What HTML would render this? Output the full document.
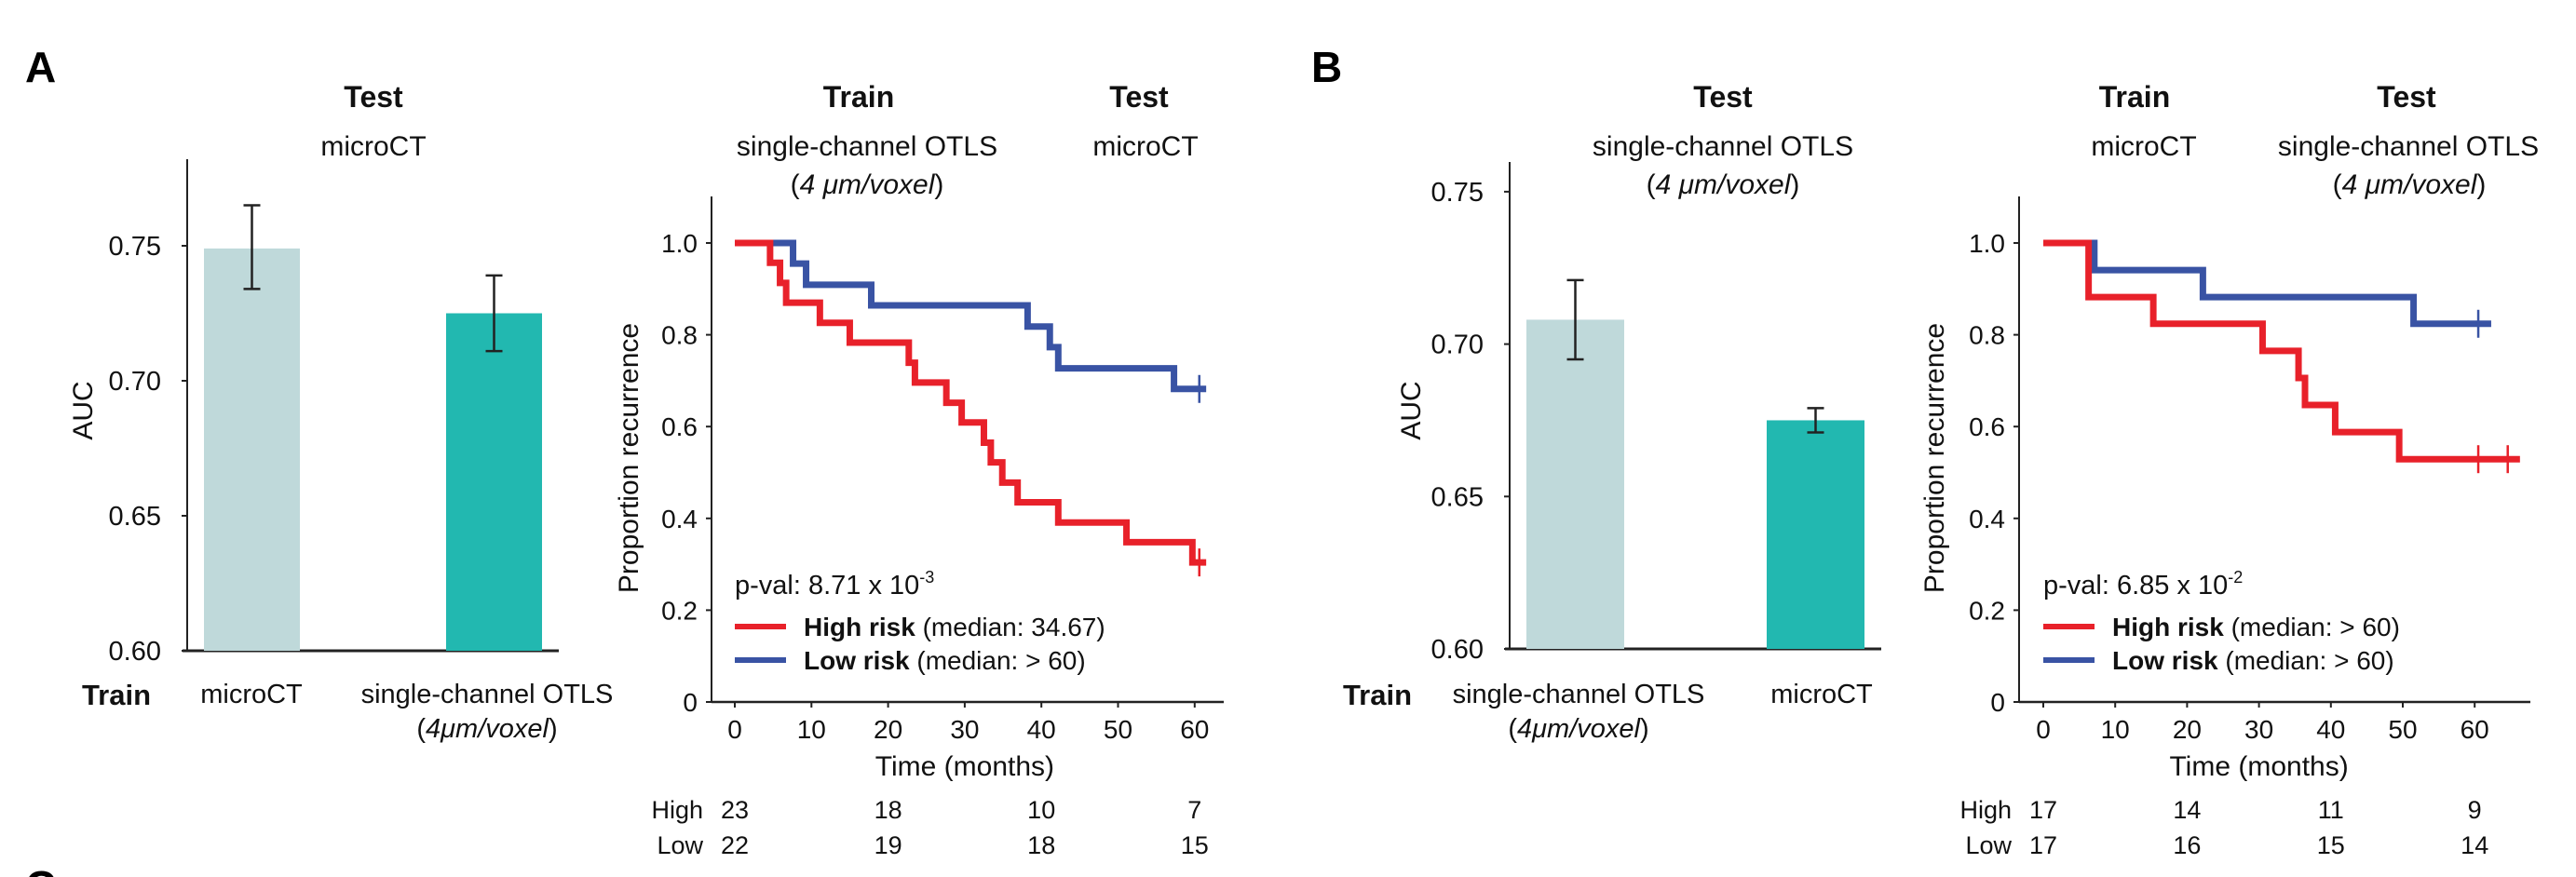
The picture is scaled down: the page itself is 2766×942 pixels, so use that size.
<!DOCTYPE html>
<html><head><meta charset="utf-8">
<style>
html,body{margin:0;padding:0;background:#fff;}
svg{display:block;font-family:"Liberation Sans",Arial,sans-serif;}
</style></head>
<body>
<svg id="fig" width="2766" height="942" viewBox="0 0 2766 942" xmlns="http://www.w3.org/2000/svg">
<text x="27" y="88" font-size="46" font-weight="bold">A</text>
<text x="1408" y="88" font-size="46" font-weight="bold">B</text>
<text x="27" y="968" font-size="46" font-weight="bold">C</text>
<g id="g"></g>
</svg>
<script>
// ---- data ----
const barCatsA = ["microCT", "single-channel OTLS"];
const barValsA = [0.749, 0.725];
const barErrLoA = [0.734, 0.711];
const barErrHiA = [0.765, 0.739];
const barCatsB = ["single-channel OTLS", "microCT"];
const barValsB = [0.708, 0.675];
const barErrLoB = [0.695, 0.671];
const barErrHiB = [0.721, 0.679];
const aucTicksA = ["0.60", "0.65", "0.70", "0.75"];
const aucTicksB = ["0.60", "0.65", "0.70", "0.75"];
const kmYTicks = ["0", "0.2", "0.4", "0.6", "0.8", "1.0"];
const kmXTicks = ["0", "10", "20", "30", "40", "50", "60"];
const kmAHighT = [0, 4.6, 5.9, 6.7, 11.1, 15, 22.7, 23.5, 27.6, 29.6, 32.5, 33.4, 34.9, 36.9, 42.2, 51.1, 59.7, 61.5];
const kmAHighS = [1, 0.957, 0.913, 0.87, 0.826, 0.783, 0.739, 0.696, 0.652, 0.609, 0.565, 0.522, 0.478, 0.435, 0.391, 0.348, 0.304, 0.304];
const kmALowT = [0, 7.6, 9.3, 17.8, 38.2, 41.1, 42.2, 57.3, 61.5];
const kmALowS = [1, 0.955, 0.909, 0.864, 0.818, 0.773, 0.727, 0.682, 0.682];
const kmACensHigh = [60.6];
const kmACensLow = [60.6];
const kmBHighT = [0, 6.3, 15.3, 30.5, 35.5, 36.4, 40.6, 49.5, 66.3];
const kmBHighS = [1, 0.882, 0.824, 0.765, 0.706, 0.647, 0.588, 0.529, 0.529];
const kmBLowT = [0, 7.1, 22.2, 51.5, 62.3];
const kmBLowS = [1, 0.941, 0.882, 0.824, 0.824];
const kmBCensHigh = [60.5, 64.6];
const kmBCensLow = [60.5];
const riskTimes = [0, 20, 40, 60];
const riskAHigh = [23, 18, 10, 7];
const riskALow = [22, 19, 18, 15];
const riskBHigh = [17, 14, 11, 9];
const riskBLow = [17, 16, 15, 14];

const NS = "http://www.w3.org/2000/svg";
const root = document.getElementById("g");
function el(tag, attrs, parent, txt) {
  const e = document.createElementNS(NS, tag);
  for (const k in attrs) e.setAttribute(k, attrs[k]);
  if (txt !== undefined) e.textContent = txt;
  (parent || root).appendChild(e);
  return e;
}
function txt(x, y, s, size, anchor, extra, name) {
  const a = Object.assign({x: x, y: y, "font-size": size, "text-anchor": anchor || "middle", fill: "#111"}, extra || {});
  const t = el("text", a, root, s);
  
  
  return t;
}
function mixed(x, y, parts, size, anchor, name) {
  const t = el("text", {x: x, y: y, "font-size": size, "text-anchor": anchor || "middle", fill: "#111"});
  
  
  parts.forEach(p => {
    el("tspan", p[1] || {}, t, p[0]);
  });
  return t;
}

// ---- bar chart ----
function barChart(o) {
  const yS = v => o.y0 - (v - 0.60) / 0.05 * o.step;
  let a = el("line", {x1: o.ax, y1: o.top, x2: o.ax, y2: o.y0, stroke: "#222", "stroke-width": 2});
  
  
  a = el("line", {x1: o.ax - 5, y1: o.y0, x2: o.axEnd, y2: o.y0, stroke: "#222", "stroke-width": 3});
  
  
  o.ticks.forEach(tk => {
    const y = yS(parseFloat(tk));
    const l = el("line", {x1: o.ax - 6, y1: y, x2: o.ax, y2: y, stroke: "#222", "stroke-width": 2});
    
    
    txt(o.ax - 28, y + 10, tk, 29, "end", null, "auc-tick-label");
  });
  const colors = ["#bfd9da", "#22b8b0"];
  o.vals.forEach((v, i) => {
    const x = o.barX[i];
    const r = el("rect", {x: x, y: yS(v), width: o.bw, height: o.y0 - yS(v), fill: colors[i]});
    
    
    const cx = x + o.bw / 2;
    const eg = el("path", {d: `M${cx} ${yS(o.hi[i])}V${yS(o.lo[i])}M${cx-9} ${yS(o.hi[i])}H${cx+9}M${cx-9} ${yS(o.lo[i])}H${cx+9}`, stroke: "#222", "stroke-width": 2.5, fill: "none"});
    
    
  });
  const at = el("text", {x: 0, y: 0, "font-size": 30, "text-anchor": "middle", fill: "#111", transform: `translate(${o.aucX},${o.aucY}) rotate(-90)`}, root, "AUC");
  
  
}
barChart({ax: 201, axEnd: 600, top: 171, y0: 699, step: 145, ticks: aucTicksA, vals: barValsA, lo: barErrLoA, hi: barErrHiA, barX: [219, 479], bw: 103, aucX: 99, aucY: 441});
barChart({ax: 1621, axEnd: 2020, top: 174, y0: 697, step: 163.7, ticks: aucTicksB, vals: barValsB, lo: barErrLoB, hi: barErrHiB, barX: [1639, 1897], bw: 105, aucX: 1525, aucY: 441});

// bar labels
txt(401, 115, "Test", 32, "middle", {"font-weight": "bold"}, "bar-a-test-title");
txt(401, 167, barCatsA[0], 30, "middle", null, "bar-a-test-subtitle");
txt(125, 757, "Train", 31, "middle", {"font-weight": "bold"}, "bar-a-train-label");
txt(270, 755, barCatsA[0], 29, "middle", null, "bar-a-category");
txt(523, 755, barCatsA[1], 29, "middle", null, "bar-a-category");
mixed(523, 792, [["("], ["4μm/voxel", {"font-style": "italic"}], [")"]], 29, "middle", "bar-a-category-unit");

txt(1850, 115, "Test", 32, "middle", {"font-weight": "bold"}, "bar-b-test-title");
txt(1850, 167, "single-channel OTLS", 30, "middle", null, "bar-b-test-subtitle");
mixed(1850, 208, [["("], ["4 μm/voxel", {"font-style": "italic"}], [")"]], 30, "middle", "bar-b-test-unit");
txt(1479, 757, "Train", 31, "middle", {"font-weight": "bold"}, "bar-b-train-label");
txt(1695, 755, barCatsB[0], 29, "middle", null, "bar-b-category");
txt(1956, 755, barCatsB[1], 29, "middle", null, "bar-b-category");
mixed(1695, 792, [["("], ["4μm/voxel", {"font-style": "italic"}], [")"]], 29, "middle", "bar-b-category-unit");

// ---- KM ----
function km(o) {
  const xS = t => o.x0 + t * o.px;
  const yS = s => o.yb - s * 493;
  let a = el("line", {x1: o.ax, y1: o.top, x2: o.ax, y2: o.yb, stroke: "#222", "stroke-width": 2});
  
  
  a = el("line", {x1: o.ax, y1: o.yb, x2: o.axEnd, y2: o.yb, stroke: "#222", "stroke-width": 2.5});
  
  
  kmYTicks.forEach(tk => {
    const y = yS(parseFloat(tk));
    const l = el("line", {x1: o.ax - 6, y1: y, x2: o.ax, y2: y, stroke: "#222", "stroke-width": 2});
    
    
    txt(o.ax - 15, y + 10, tk, 28, "end", null, "km-y-tick-label");
  });
  kmXTicks.forEach(tk => {
    const x = xS(parseFloat(tk));
    const l = el("line", {x1: x, y1: o.yb, x2: x, y2: o.yb + 6, stroke: "#222", "stroke-width": 2});
    
    
    txt(x, o.yb + 39, tk, 28, "middle", null, "km-x-tick-label");
  });
  txt((xS(0) + xS(60)) / 2, o.yb + 79, "Time (months)", 30, "middle", null, "km-x-axis-title");
  const yt = el("text", {x: 0, y: 0, "font-size": 30, "text-anchor": "middle", fill: "#111", transform: `translate(${o.ylX},${o.yb - 262}) rotate(-90)`}, root, "Proportion recurrence");
  
  
  function curve(T, S, cens, color, name) {
    let d = `M${xS(T[0])} ${yS(S[0])}`;
    for (let i = 1; i < T.length; i++) d += `H${xS(T[i])}V${yS(S[i])}`;
    const p = el("path", {d: d, stroke: color, "stroke-width": 7, fill: "none"});
    
    
    cens.forEach(c => {
      let s = S[0];
      for (let i = 0; i < T.length; i++) if (T[i] <= c) s = S[i];
      const m = el("path", {d: `M${xS(c)} ${yS(s) - 15}V${yS(s) + 15}`, stroke: color, "stroke-width": 2.5});
      
      
    });
  }
  curve(o.lowT, o.lowS, o.censLow, "#3953a4", "low-risk-curve");
  curve(o.highT, o.highS, o.censHigh, "#e8212a", "high-risk-curve");
  // legend
  const lx = o.x0;
  mixed(lx, 638, [["p-val: " + o.p + " x 10"], [o.exp, {"font-size": 18, dy: -12}]], 29, "start", "p-value");
  let l = el("line", {x1: lx, y1: 673, x2: lx + 55, y2: 673, stroke: "#e8212a", "stroke-width": 6});
  
  
  l = el("line", {x1: lx, y1: 709, x2: lx + 55, y2: 709, stroke: "#3953a4", "stroke-width": 6});
  
  
  mixed(lx + 74, 683, [["High risk", {"font-weight": "bold"}], [" (median: " + o.medHigh + ")"]], 28, "start", "legend-high-risk");
  mixed(lx + 74, 719, [["Low risk", {"font-weight": "bold"}], [" (median: " + o.medLow + ")"]], 28, "start", "legend-low-risk");
  // risk table
  txt(xS(0) - 34, 879, "High", 27, "end", null, "risk-table-high-label");
  txt(xS(0) - 34, 917, "Low", 27, "end", null, "risk-table-low-label");
  riskTimes.forEach((t, i) => {
    txt(xS(t), 879, String(o.rH[i]), 27, "middle", null, "risk-high-count");
    txt(xS(t), 917, String(o.rL[i]), 27, "middle", null, "risk-low-count");
  });
}
km({ax: 764, axEnd: 1314, top: 211, yb: 754, x0: 789, px: 8.23, ylX: 685,
    highT: kmAHighT, highS: kmAHighS, lowT: kmALowT, lowS: kmALowS, censHigh: kmACensHigh, censLow: kmACensLow,
    p: "8.71", exp: "-3", medHigh: "34.67", medLow: "> 60", rH: riskAHigh, rL: riskALow});
km({ax: 2168, axEnd: 2717, top: 211, yb: 754, x0: 2194, px: 7.72, ylX: 2087,
    highT: kmBHighT, highS: kmBHighS, lowT: kmBLowT, lowS: kmBLowS, censHigh: kmBCensHigh, censLow: kmBCensLow,
    p: "6.85", exp: "-2", medHigh: "> 60", medLow: "> 60", rH: riskBHigh, rL: riskBLow});

// KM titles
txt(922, 115, "Train", 32, "middle", {"font-weight": "bold"}, "km-a-train-title");
txt(931, 167, "single-channel OTLS", 30, "middle", null, "km-a-train-subtitle");
mixed(931, 208, [["("], ["4 μm/voxel", {"font-style": "italic"}], [")"]], 30, "middle", "km-a-train-unit");
txt(1223, 115, "Test", 32, "middle", {"font-weight": "bold"}, "km-a-test-title");
txt(1230, 167, "microCT", 30, "middle", null, "km-a-test-subtitle");

txt(2292, 115, "Train", 32, "middle", {"font-weight": "bold"}, "km-b-train-title");
txt(2302, 167, "microCT", 30, "middle", null, "km-b-train-subtitle");
txt(2584, 115, "Test", 32, "middle", {"font-weight": "bold"}, "km-b-test-title");
txt(2586, 167, "single-channel OTLS", 30, "middle", null, "km-b-test-subtitle");
mixed(2587, 208, [["("], ["4 μm/voxel", {"font-style": "italic"}], [")"]], 30, "middle", "km-b-test-unit");
</script>
</body></html>
